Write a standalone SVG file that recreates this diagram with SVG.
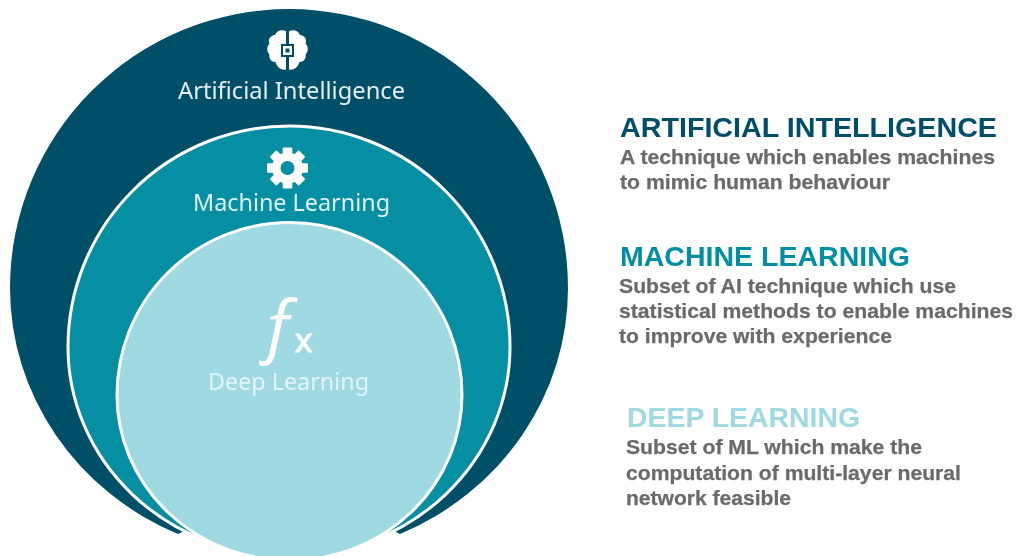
<svg xmlns="http://www.w3.org/2000/svg" width="1019" height="556" viewBox="0 0 1019 556">
<style>
.lab{font-family:"Noto Sans","Open Sans",sans-serif;text-anchor:middle}
.t{font-family:"Liberation Sans",Arial,sans-serif;font-weight:700;font-size:28px}
.b{font-family:"Liberation Sans",Arial,sans-serif;font-weight:700;font-size:21px;fill:#6a6a6a;stroke:#6a6a6a;stroke-width:.25}
.s{filter:url(#soft)}
</style>
<defs>
<filter id="soft" x="-5%" y="-20%" width="110%" height="140%"><feGaussianBlur stdDeviation="0.55"/></filter>
<rect id="tooth" x="-4.8" y="-20.5" width="9.6" height="9" rx="1.2" fill="#fff"/>
</defs>
<rect width="1019" height="556" fill="#fff"/>
<g id="node-ai">
<path d="M10 288A279 279 0 0 1 568 288A279 268 0 0 1 400 533.900L289 480L178 533.900A279 268 0 0 1 10 288Z" fill="#004f68"/>
<text class="lab s" x="291.500" y="99" font-size="23.500" fill="#e6eef1" textLength="227" lengthAdjust="spacingAndGlyphs">Artificial Intelligence</text>
<g id="icon-brain">
<path d="M286 31C281 29 276.500 31 275 35C270.500 35.500 267.500 39.500 269.500 43.500C266.500 46.500 266.500 51.500 269.500 54.500C268.500 58.500 271.500 62 275.500 62C277 67.500 281.500 70.500 286 69.500Z" fill="#fff"/>
<path d="M289 31C294 29 298.500 31 300 35C304.500 35.500 307.500 39.500 305.500 43.500C308.500 46.500 308.500 51.500 305.500 54.500C306.500 58.500 303.500 62 299.500 62C298 67.500 293.500 70.500 289 69.500Z" fill="#fff"/>
<rect x="281" y="44" width="13" height="13" fill="#004f68"/>
<rect x="283" y="46" width="9" height="9" fill="#fff"/>
<rect x="285.500" y="48.500" width="4" height="4" fill="#004f68"/>
</g>
</g>
<g id="node-ml">
<path d="M68 347A221 221 0 0 1 510 347A221 209 0 0 1 289 556A221 209 0 0 1 68 347Z" fill="#068fa3" stroke="#fff" stroke-width="3"/>
<text class="lab s" x="291.500" y="211" font-size="23.500" fill="#dff1f4" textLength="197" lengthAdjust="spacingAndGlyphs">Machine Learning</text>
<g id="icon-gear" transform="translate(287.500 168)">
<circle r="15.500" fill="#fff"/>
<use href="#tooth"/><use href="#tooth" transform="rotate(45)"/><use href="#tooth" transform="rotate(90)"/><use href="#tooth" transform="rotate(135)"/><use href="#tooth" transform="rotate(180)"/><use href="#tooth" transform="rotate(225)"/><use href="#tooth" transform="rotate(270)"/><use href="#tooth" transform="rotate(315)"/>
<circle r="7" fill="#068fa3"/>
</g>
</g>
<g id="node-dl">
<path d="M117 395A172.500 172.500 0 0 1 462 395A172.500 165.500 0 0 1 289.500 560.500A172.500 165.500 0 0 1 117 395Z" fill="#9fd9e2" stroke="#fff" stroke-width="3"/>
<text class="lab s" x="288.500" y="390" font-size="23" fill="#e2f4f7" textLength="161" lengthAdjust="spacingAndGlyphs">Deep Learning</text>
<text id="icon-fx" x="259" y="349" font-family="Open Sans,Noto Sans,sans-serif" font-style="italic" font-size="72" fill="#fff">ƒ<tspan x="295" y="352" font-family="Liberation Sans,sans-serif" font-style="normal" font-size="34" stroke="#fff" stroke-width="1">x</tspan></text>
</g>
<g id="legend-ai" class="s">
<text class="t" x="620" y="137" fill="#004f68" textLength="377" lengthAdjust="spacingAndGlyphs">ARTIFICIAL INTELLIGENCE</text>
<text class="b" x="620" y="164" textLength="375" lengthAdjust="spacingAndGlyphs">A technique which enables machines</text>
<text class="b" x="620" y="189" textLength="270" lengthAdjust="spacingAndGlyphs">to mimic human behaviour</text>
</g>
<g id="legend-ml" class="s">
<text class="t" x="620" y="266" fill="#068fa3" textLength="290" lengthAdjust="spacingAndGlyphs">MACHINE LEARNING</text>
<text class="b" x="619" y="293" textLength="337" lengthAdjust="spacingAndGlyphs">Subset of AI technique which use</text>
<text class="b" x="619" y="318" textLength="394" lengthAdjust="spacingAndGlyphs">statistical methods to enable machines</text>
<text class="b" x="619" y="343" textLength="273" lengthAdjust="spacingAndGlyphs">to improve with experience</text>
</g>
<g id="legend-dl" class="s">
<text class="t" x="627" y="427" fill="#9fd9e2" textLength="233" lengthAdjust="spacingAndGlyphs">DEEP LEARNING</text>
<text class="b" x="626" y="454" textLength="296" lengthAdjust="spacingAndGlyphs">Subset of ML which make the</text>
<text class="b" x="626" y="480" textLength="335" lengthAdjust="spacingAndGlyphs">computation of multi-layer neural</text>
<text class="b" x="626" y="505" textLength="165" lengthAdjust="spacingAndGlyphs">network feasible</text>
</g>
<g id="connectors"/>
</svg>
